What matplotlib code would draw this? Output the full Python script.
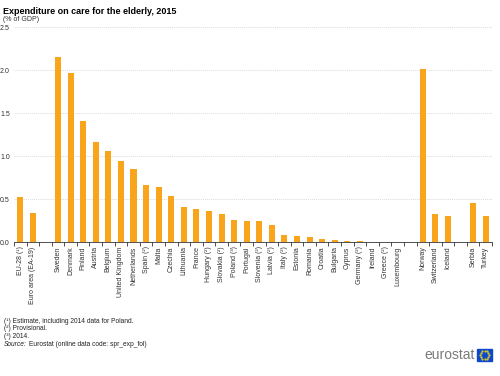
import numpy as np
import matplotlib
matplotlib.use("Agg")
import matplotlib.pyplot as plt
from matplotlib.patches import Rectangle

plt.rcParams['font.family'] = ['Liberation Sans', 'DejaVu Sans']

# data ('' = gap between groups)
countries = ['EU-28 (¹)', 'Euro area (EA-19)', '',
             'Sweden', 'Denmark', 'Finland', 'Austria', 'Belgium', 'United Kingdom',
             'Netherlands', 'Spain (²)', 'Malta', 'Czechia', 'Lithuania', 'France',
             'Hungary (²)', 'Slovakia (²)', 'Poland (³)', 'Portugal', 'Slovenia (²)',
             'Latvia (²)', 'Italy (²)', 'Estonia', 'Romania', 'Croatia', 'Bulgaria',
             'Cyprus', 'Germany (²)', 'Ireland', 'Greece (²)', 'Luxembourg', '',
             'Norway', 'Switzerland', 'Iceland', '',
             'Serbia', 'Turkey']
values = [0.52, 0.34, np.nan,
          2.15, 1.97, 1.41, 1.16, 1.06, 0.94,
          0.85, 0.66, 0.64, 0.54, 0.41, 0.38,
          0.36, 0.33, 0.26, 0.25, 0.24,
          0.20, 0.08, 0.07, 0.06, 0.04, 0.03,
          0.01, 0.01, 0.0, 0.0, 0.0, np.nan,
          2.01, 0.33, 0.30, np.nan,
          0.46, 0.30]
footnotes = ['(¹) Estimate, including 2014 data for Poland.',
             '(²) Provisional.',
             '(³) 2014.']

fig = plt.figure(figsize=(5, 3.76), dpi=100)
ax = fig.add_axes([0.028, 0.356, 0.956, 0.572])

x = np.arange(len(countries))
ax.bar(x, values, width=0.48, color='#F9A51B', zorder=3)

ax.set_xlim(-0.5, len(countries) - 0.5)
ax.set_ylim(0, 2.5)
ax.set_yticks(np.arange(0, 2.51, 0.5))
ax.set_yticklabels(['%.1f' % v for v in np.arange(0, 2.51, 0.5)], fontsize=5, color='#333333')
ax.yaxis.grid(True, linestyle=(0, (1, 1)), color='#dadada', linewidth=0.7, zorder=0)
ax.tick_params(axis='y', length=0, pad=3)

ax.set_xticks(x)
ax.set_xticklabels(countries, rotation=90, fontsize=5, color='#333333')
ax.tick_params(axis='x', which='major', length=0, pad=3)
ax.set_xticks(np.arange(-0.5, len(countries), 1), minor=True)
ax.tick_params(axis='x', which='minor', length=3, width=0.6, color='#333333')

for s in ['top', 'right', 'left']:
    ax.spines[s].set_visible(False)
ax.spines['bottom'].set_color('#333333')
ax.spines['bottom'].set_linewidth(0.6)

fig.text(0.006, 0.982, 'Expenditure on care for the elderly, 2015', fontsize=6.5,
         fontweight='bold', va='top')
fig.text(0.006, 0.958, '(% of GDP)', fontsize=5, va='top', color='#333333')

y0 = 0.146
for i, t in enumerate(footnotes):
    fig.text(0.008, y0 - i * 0.021, t, fontsize=4.8, va='center', color='#222222')
fig.text(0.008, y0 - 3 * 0.021, 'Source:', fontsize=4.8, va='center', style='italic', color='#222222')
fig.text(0.058, y0 - 3 * 0.021, 'Eurostat (online data code: spr_exp_fol)', fontsize=4.8,
         va='center', color='#222222')

# eurostat logo
fig.text(0.95, 0.056, 'eurostat', fontsize=10, color='#7a7a7a', ha='right', va='center')
flag = Rectangle((0.954, 0.04), 0.03, 0.032, transform=fig.transFigure, color='#0E47CB')
fig.patches.append(flag)
ang = np.linspace(0, 2 * np.pi, 12, endpoint=False)
fig.add_artist(plt.Line2D(0.969 + 0.0085 * np.cos(ang), 0.056 + 0.011 * np.sin(ang),
                          transform=fig.transFigure, linestyle='none', marker='.',
                          markersize=1.0, color='#FFE600'))

fig.savefig('out.png', dpi=100)
